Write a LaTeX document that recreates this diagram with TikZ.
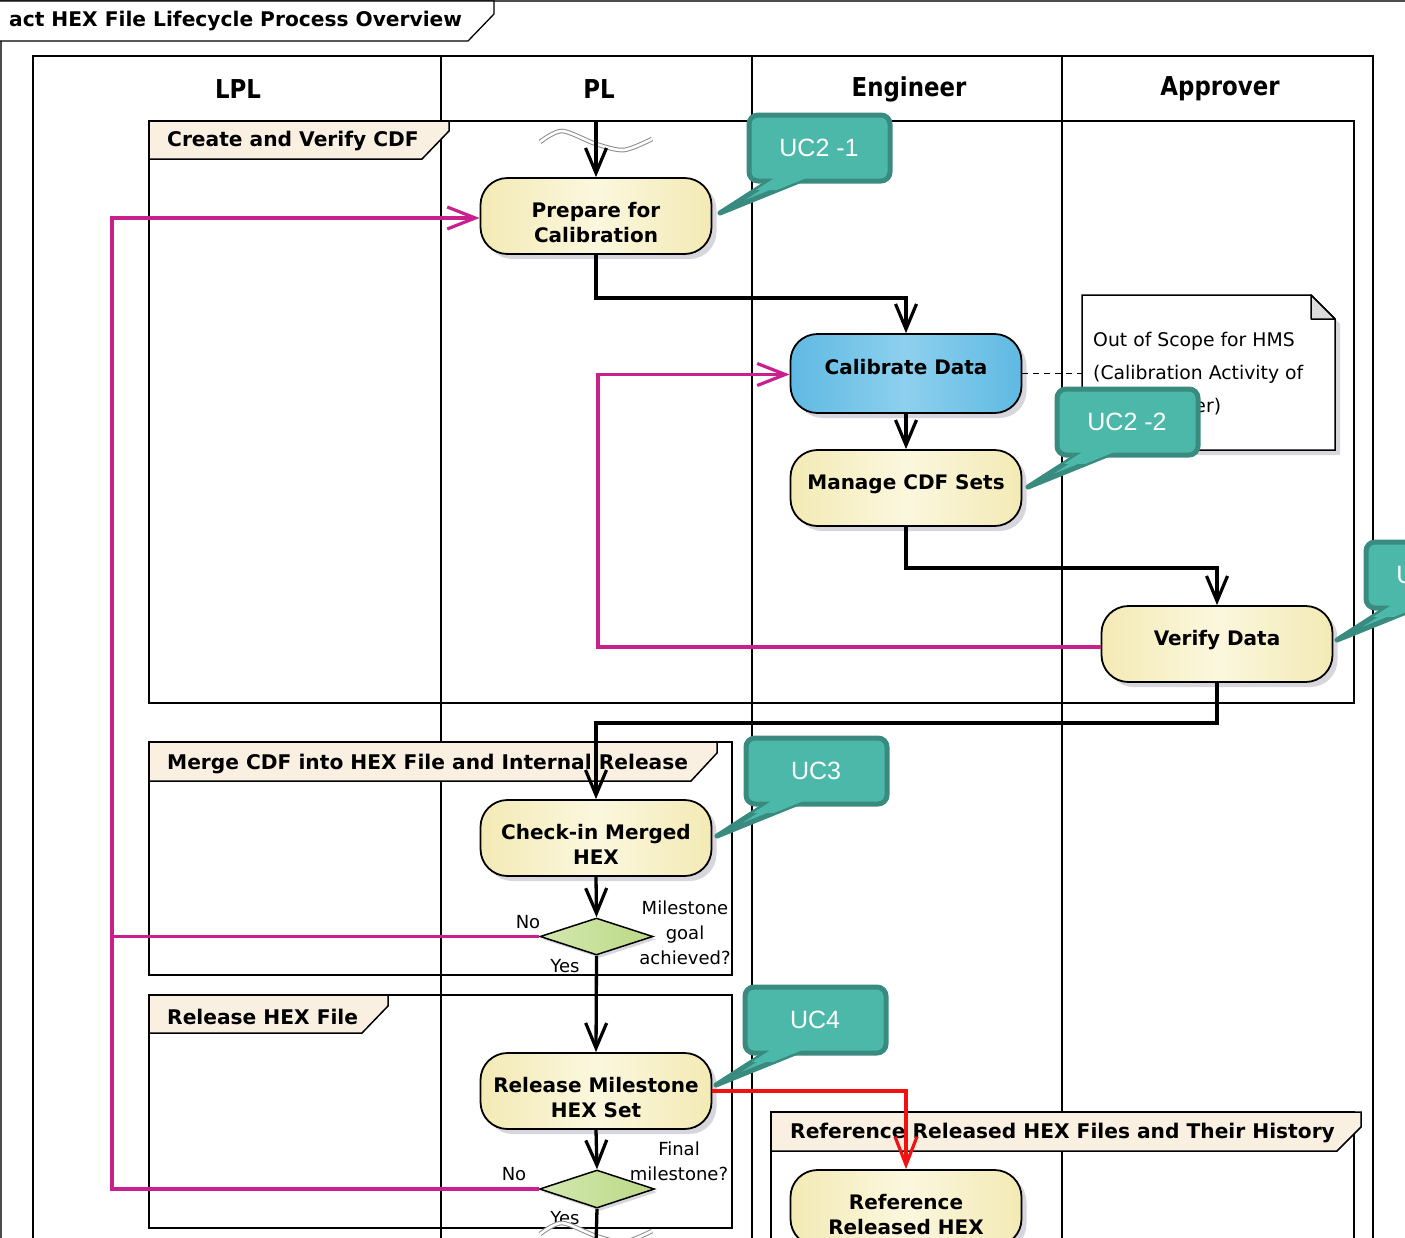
\documentclass[tikz,border=0pt]{standalone}
\usepackage{fontspec}
\setmainfont{DejaVu Sans}
\newfontfamily\lanefont[FakeStretch=0.88]{DejaVu Sans}
\newfontfamily\ucfont{Liberation Sans}
\usetikzlibrary{arrows.meta,shapes.geometric,shadows}

\definecolor{actA}{HTML}{F3EAB5}
\definecolor{actB}{HTML}{FBF7DE}
\definecolor{calA}{HTML}{5FB9E2}
\definecolor{calB}{HTML}{8DD0EE}
\definecolor{decA}{HTML}{BAD985}
\definecolor{decB}{HTML}{D4E8B0}
\definecolor{ucfill}{HTML}{4BB8A9}
\definecolor{ucedge}{HTML}{3A8B7F}
\definecolor{tabfill}{HTML}{FAF0E2}
\definecolor{loopmag}{HTML}{C8208C}
\definecolor{refred}{HTML}{F21111}
\definecolor{shadegray}{HTML}{D6D6DC}

% speech-bubble tag: #1 name, #2 left x, #3 top y, #4 text
\newcommand\ucnote[4]{%
  \begin{scope}[shift={(#2,#3)}]
    \filldraw[ucbody] (27,62) -- (-29,98) -- (60,62) -- cycle;
    \filldraw[ucbody, rounded corners=9pt] (0,0) rectangle (141,66);
    \begin{scope}
      \clip (-40,63.6) rectangle (160,74);
      \fill[ucfill] (27,62) -- (-29,98) -- (60,62) -- cycle;
    \end{scope}
    \node[uctext] (#1) at (70,33) {#4};
  \end{scope}}

\begin{document}
\begin{tikzpicture}[x=1pt,y=-1pt,
  frm/.style={line width=1.5pt, draw=black},
  grplabel/.style={anchor=west, inner sep=0pt, font=\fontsize{20.2}{24}\selectfont\bfseries},
  lanehead/.style={font=\lanefont\fontsize{26}{30}\selectfont\bfseries},
  act/.style={draw=black, line width=1.8pt, rounded corners=27pt,
    left color=actA, right color=actA, middle color=actB,
    minimum width=231pt, minimum height=76pt, align=center, inner sep=0pt,
    font=\fontsize{20}{25}\selectfont\bfseries,
    drop shadow={shadow xshift=5pt, shadow yshift=-5pt, fill=shadegray, opacity=1}},
  oneline/.style={text height=15pt, text depth=13pt},
  twoline/.style={text height=52pt, text depth=0pt},
  calshade/.style={left color=calA, right color=calA, middle color=calB},
  dec/.style={diamond, draw=black, line width=1.5pt, inner sep=0pt,
    left color=decB, right color=decA,
    drop shadow={shadow xshift=3pt, shadow yshift=-3pt, fill=shadegray, opacity=1}},
  lbl/.style={inner sep=0pt, align=center, font=\fontsize{18}{25}\selectfont},
  notetext/.style={anchor=west, inner sep=0pt, font=\fontsize{18.8}{22}\selectfont},
  ucbody/.style={fill=ucfill, draw=ucedge, line width=5pt, line join=round},
  uctext/.style={text=white, font=\ucfont\fontsize{25}{28}\selectfont},
  flow/.style={line width=3.3pt, -{Straight Barb[length=25pt,width=21pt,line width=3.2pt]}},
  flowplain/.style={line width=3.3pt},
  loopback/.style={line width=3.3pt, draw=loopmag, -{Straight Barb[length=28pt,width=22pt,line width=3.2pt]}},
  loopplain/.style={line width=3.3pt, draw=loopmag},
  refflow/.style={line width=3.3pt, draw=refred, -{Straight Barb[length=28pt,width=22pt,line width=3.2pt]}},
  wavy/.style={draw=black!45, double=white, double distance=2.6pt, line width=1pt}
]
\useasboundingbox (0,0) rectangle (1405,1237);
\clip (0,0) rectangle (1405,1237);

% diagram frame and its title tab
\draw[line width=1.2pt, draw=black!70] (1,1300) -- (1,1) -- (1500,1);
\draw[line width=1.3pt, fill=white] (0,1) -- (494,1) -- (494,14) -- (468,41) -- (0,41);
\node[grplabel] (title) at (9,21) {act HEX File Lifecycle Process Overview};

% swimlanes
\draw[line width=1.8pt] (33,1300) -- (33,56) -- (1373,56) -- (1373,1300);
\draw[line width=1.4pt] (441,56) -- (441,1300);
\draw[line width=1.4pt] (752,56) -- (752,1300);
\draw[line width=1.4pt] (1062,56) -- (1062,1300);
\node[lanehead] (hLPL) at (238,89) {LPL};
\node[lanehead] (hPL) at (599,89) {PL};
\node[lanehead] (hEng) at (909,89) {Engineer};
\node[lanehead] (hApp) at (1220,89) {Approver};

% activity groups
\draw[frm] (149,121) rectangle (1354,703);
\filldraw[frm, fill=tabfill] (149,121) -- (449,121) -- (449,131) -- (422,159) -- (149,159) -- cycle;
\node[grplabel] (g1) at (167,141) {Create and Verify CDF};

\draw[frm] (149,742) rectangle (732,975);
\filldraw[frm, fill=tabfill] (149,742) -- (717,742) -- (717,753) -- (691,781) -- (149,781) -- cycle;
\node[grplabel] (g2) at (167,764) {Merge CDF into HEX File and Internal Release};

\draw[frm] (149,995) rectangle (732,1228);
\filldraw[frm, fill=tabfill] (149,995) -- (388,995) -- (388,1006) -- (362,1033) -- (149,1033) -- cycle;
\node[grplabel] (g3) at (167,1017) {Release HEX File};

\draw[frm] (771,1300) -- (771,1112) -- (1354,1112) -- (1354,1300);
\filldraw[frm, fill=tabfill] (771,1112) -- (1361,1112) -- (1361,1127) -- (1337,1151) -- (771,1151) -- cycle;
\node[grplabel] (g4) at (790,1133) {Reference Released HEX Files and Their History};

% note attached to the calibration step
\node[minimum width=253pt, minimum height=155pt, inner sep=0pt] (note) at (1208.5,372.5) {};
\fill[shadegray] (1087,300) -- (1316,300) -- (1340,324) -- (1340,455) -- (1087,455) -- cycle;
\filldraw[line width=1.5pt, fill=white] (1082,295) -- (1311,295) -- (1335,319) -- (1335,450) -- (1082,450) -- cycle;
\filldraw[line width=1.5pt, fill=black!14, line join=round] (1311,295) -- (1311,319) -- (1335,319) -- cycle;
\node[notetext] (n1) at (1093,341) {Out of Scope for HMS};
\node[notetext] (n2) at (1093,374) {(Calibration Activity of};
\node[notetext] (n3) at (1093,407) {the Engineer)};

% actions
\node[act, twoline] (prep) at (596,216) {Prepare for\\Calibration};
\node[act, oneline, calshade, minimum height=79pt] (calib) at (906,373.5) {Calibrate Data};
\node[act, oneline] (cdf) at (906,488) {Manage CDF Sets};
\node[act, oneline] (verify) at (1217,644) {Verify Data};
\node[act, twoline] (checkin) at (596,838) {Check-in Merged\\HEX};
\node[act, twoline] (release) at (596,1091) {Release Milestone\\HEX Set};
\node[act, twoline] (ref) at (906,1208) {Reference\\Released HEX};

% decisions
\node[dec, minimum width=113pt, minimum height=37pt] (dec1) at (596.5,936.5) {};
\node[dec, minimum width=115pt, minimum height=38pt] (dec2) at (597,1189) {};
\node[lbl] (no1) at (528,922) {No};
\node[lbl] (yes1) at (565,966) {Yes};
\node[lbl] (q1) at (685,933) {Milestone\\goal\\achieved?};
\node[lbl] (no2) at (514,1174) {No};
\node[lbl] (yes2) at (565,1218) {Yes};
\node[lbl] (q2) at (679,1161.5) {Final\\milestone?};

% continuation marks
\draw[wavy] plot[smooth] coordinates {(540,142) (562,131) (596,144) (624,150) (652,139)};
\draw[wavy] plot[smooth] coordinates {(540,1234) (562,1223) (596,1236) (624,1242) (652,1231)};

% helper points
\coordinate (start) at (596,121);
\coordinate (finish) at (596,1245);
\coordinate (leftrail) at (112,0);
\coordinate (midrail) at (598,0);

% control flow
\draw[flow] (start) -- (prep.north);
\draw[flow] (prep.south) -- ++(0,43) -| (calib.north);
\draw[flow] (calib.south) -- (cdf.north);
\draw[flow] (cdf.south) -- ++(0,41) -| (verify.north);
\draw[flow] (verify.south) -- ++(0,40) -| (checkin.north);
\draw[flow] (checkin.south) -- (dec1.north);
\draw[flow] (dec1.south) -- (release.north);
\draw[flow] (release.south) -- (dec2.north);
\draw[flowplain] (dec2.south) -- (finish);

% loops back
\draw[loopback] (dec1.west) -- (dec1.west -| leftrail) |- ([yshift=-2pt]prep.west);
\draw[loopplain] (dec2.west) -- (dec2.west -| leftrail) -- (dec1.west -| leftrail);
\draw[loopback] ([yshift=-3pt]verify.west) -- ([yshift=-3pt]verify.west -| midrail) |- ([yshift=-1pt]calib.west);
\draw[refflow] (release.east) -- (release.east -| ref.north) -- (ref.north);
\draw[dash pattern=on 6pt off 5pt, line width=1.4pt] (calib.east) -- (calib.east -| note.west);

% use-case tags
\ucnote{uc21}{749}{115}{UC2 -1}
\ucnote{uc22}{1057}{389}{UC2 -2}
\ucnote{uc23}{1366}{542}{UC2 -3}
\ucnote{uc3}{746}{738}{UC3}
\ucnote{uc4}{745}{987}{UC4}
\end{tikzpicture}
\end{document}
